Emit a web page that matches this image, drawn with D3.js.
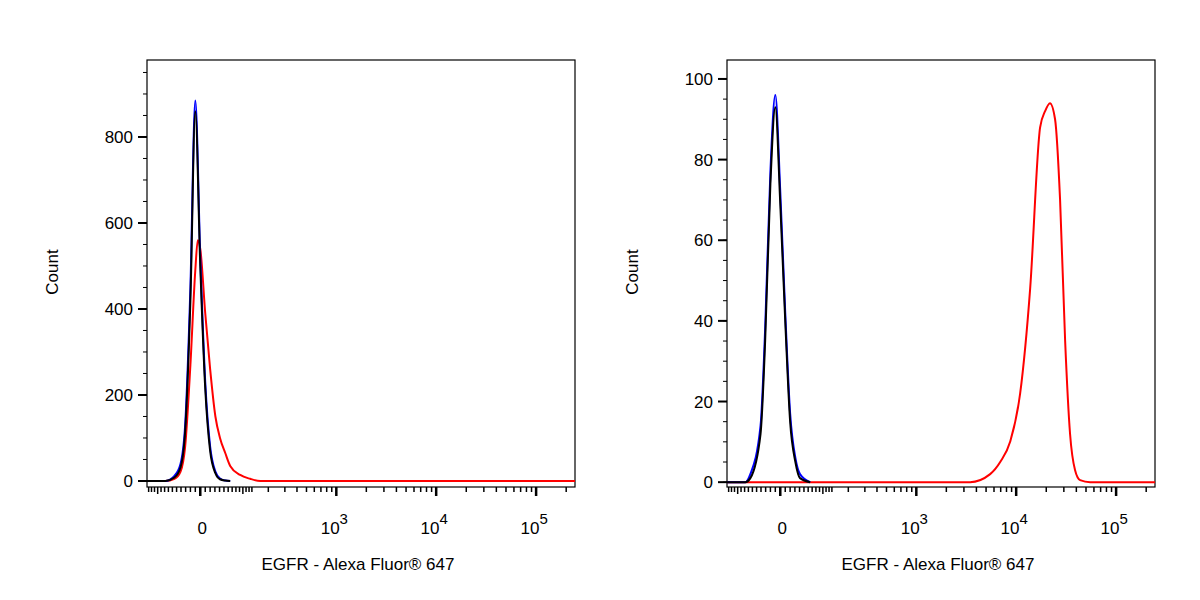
<!DOCTYPE html>
<html><head><meta charset="utf-8">
<script src="https://cdn.jsdelivr.net/npm/d3@7"></script>
<style>body{margin:0;background:#fff}text{font-family:Arial,"Liberation Sans",sans-serif}</style>
</head><body><svg id="c" width="1200" height="600"></svg>
<script>
// histogram data: [fluorescence, count]
var leftBlue = [[-136,0],[-78,0],[-55,12],[-41,40],[-31,130],[-20,450],[-10,885],[0,520],[10,230],[20,80],[31,22],[41,6],[53,1],[65,0]];
var leftBlack = [[-136,0],[-78,0],[-55,8],[-41,32],[-31,115],[-20,420],[-10,860],[0,500],[10,215],[20,70],[31,18],[41,4],[53,1],[65,0]];
var leftRed = [[-136,0],[-78,0],[-55,5],[-41,22],[-31,80],[-20,270],[-10,490],[-5,560],[0,540],[10,390],[20,260],[31,150],[41,100],[53,65],[65,35],[92,14],[124,5],[163,0],[245000,0]];
var rightBlue = [[-136,0],[-78,0],[-65,2],[-41,14],[-31,38],[-20,77],[-10,96],[0,72],[10,42],[20,17],[31,6],[41,2],[65,0]];
var rightBlack = [[-136,0],[-78,0],[-65,1],[-41,12],[-31,35],[-20,74],[-10,93],[0,69],[10,40],[20,15],[31,5],[41,1],[65,0]];
var rightRed = [[-136,0],[3460,0],[5490,2],[6920,5],[8700,10],[10960,22],[13800,48],[17360,88],[19460,92],[21800,94],[24500,90],[27500,70],[30900,35],[34600,12],[38800,3],[43600,0.5],[55000,0],[245000,0]];
var leftYTicks = [0,200,400,600,800];
var rightYTicks = [0,20,40,60,80,100];
var decadeLabels = [3,4,5];

var svg = d3.select("#c");
var W = 87.2;
function tr(v){ return Math.asinh(v/W)/Math.LN10; }

function panel(ox, yMax, yMin, yTicks, yMinorStep, series){
  var x0 = ox+147, x1 = ox+575, yTop = 60, yBot = 487;
  var xs = d3.scaleLinear().domain([tr(-136), tr(245000)]).range([x0, x1]);
  var X = function(v){ return xs(tr(v)); };
  var ys = d3.scaleLinear().domain([yMin, yMax]).range([yBot, yTop]);
  var g = svg.append("g");
  g.append("rect").attr("x",x0).attr("y",yTop).attr("width",x1-x0).attr("height",yBot-yTop)
    .attr("fill","none").attr("stroke","#000").attr("stroke-width",1.2);
  var line = d3.line().x(function(d){return X(d[0]);}).y(function(d){return ys(d[1]);}).curve(d3.curveMonotoneX);
  series.forEach(function(s){
    g.append("path").attr("d",line(s.data)).attr("fill","none").attr("stroke",s.c).attr("stroke-width",s.w);
  });
  // y ticks
  var minors = d3.range(0, yMax, yMinorStep);
  g.selectAll(".ym").data(minors).enter().append("line")
    .attr("x1",x0-4).attr("x2",x0).attr("y1",function(d){return ys(d);}).attr("y2",function(d){return ys(d);})
    .attr("stroke","#000");
  g.selectAll(".yM").data(yTicks).enter().append("line")
    .attr("x1",x0-9).attr("x2",x0).attr("y1",function(d){return ys(d);}).attr("y2",function(d){return ys(d);})
    .attr("stroke","#000").attr("stroke-width",2);
  g.selectAll(".yl").data(yTicks).enter().append("text")
    .attr("x",x0-14).attr("y",function(d){return ys(d)+6;}).attr("text-anchor","end")
    .attr("font-size",17).text(function(d){return d;});
  // x ticks (biexponential)
  var minor = [], major = [0, 1000, 10000, 100000];
  for (var i=10;i<=130;i+=10){ minor.push(i); minor.push(-i); }
  for (var p=100;p<=100000;p*=10) for (var k=2;k<=9;k++) if(p*k<245000) minor.push(p*k);
  g.selectAll(".xm").data(minor.filter(function(d){return d>-136;})).enter().append("line")
    .attr("x1",function(d){return X(d);}).attr("x2",function(d){return X(d);})
    .attr("y1",yBot).attr("y2",function(d){return yBot+(Math.abs(d)==100?7:5);})
    .attr("stroke","#000").attr("stroke-width",1.5);
  g.selectAll(".xM").data(major).enter().append("line")
    .attr("x1",function(d){return X(d);}).attr("x2",function(d){return X(d);})
    .attr("y1",yBot).attr("y2",yBot+9).attr("stroke","#000").attr("stroke-width",2.5);
  g.append("text").attr("x",X(0)+2).attr("y",534).attr("text-anchor","middle").attr("font-size",17).text("0");
  decadeLabels.forEach(function(e){
    var t = g.append("text").attr("x",X(Math.pow(10,e))-2).attr("y",534).attr("text-anchor","middle").attr("font-size",17);
    t.append("tspan").text("10");
    t.append("tspan").attr("dy",-10).attr("font-size",15).text(e);
  });
  g.append("text").attr("transform","translate("+(ox+58)+",272) rotate(-90)").attr("text-anchor","middle")
    .attr("font-size",17).text("Count");
  g.append("text").attr("x",ox+358).attr("y",570).attr("text-anchor","middle").attr("font-size",17)
    .text("EGFR - Alexa Fluor® 647");
}

panel(0, 979, -14, leftYTicks, 50, [
  {data:leftRed, c:"#ff0000", w:2},
  {data:leftBlue, c:"#0000ff", w:2},
  {data:leftBlack, c:"#000", w:2}]);
panel(580, 104.7, -1.2, rightYTicks, 5, [
  {data:rightRed, c:"#ff0000", w:2},
  {data:rightBlue, c:"#0000ff", w:2},
  {data:rightBlack, c:"#000", w:2}]);
</script></body></html>
